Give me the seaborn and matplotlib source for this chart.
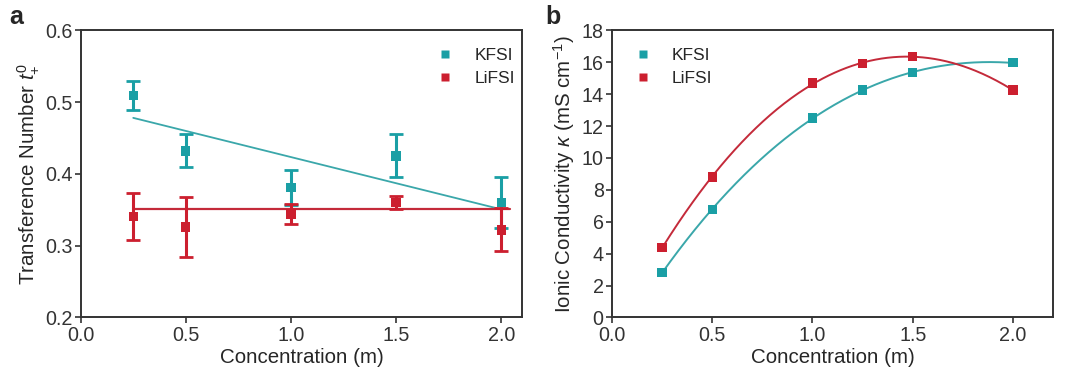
import numpy as np
import pandas as pd
import matplotlib
matplotlib.use("Agg")
import matplotlib.pyplot as plt
import seaborn as sns

# ---------------- data ----------------
conc_a = [0.25, 0.5, 1.0, 1.5, 2.0]
kfsi_t = [0.509, 0.432, 0.381, 0.425, 0.360]
kfsi_t_err = [0.020, 0.023, 0.024, 0.030, 0.035]
lifsi_t = [0.341, 0.326, 0.344, 0.360, 0.322]
lifsi_t_err = [0.033, 0.042, 0.014, 0.009, 0.030]
kfsi_fit_x = [0.25, 1.98]
kfsi_fit_y = [0.478, 0.352]
lifsi_fit_x = [0.25, 2.04]
lifsi_fit_y = [0.351, 0.351]

conc_b = [0.25, 0.5, 1.0, 1.25, 1.5, 2.0]
kfsi_k = [2.82, 6.75, 12.51, 14.25, 15.35, 15.96]
lifsi_k = [4.38, 8.80, 14.70, 15.90, 16.36, 14.25]

series = ["KFSI", "LiFSI"]
xticks = [0.0, 0.5, 1.0, 1.5, 2.0]
yticks_a = [0.2, 0.3, 0.4, 0.5, 0.6]
yticks_b = [0, 2, 4, 6, 8, 10, 12, 14, 16, 18]

# ---------------- style ----------------
sns.set_theme(style="ticks")
plt.rcParams["font.family"] = ["Liberation Sans", "DejaVu Sans"]
plt.rcParams["mathtext.fontset"] = "custom"
plt.rcParams["mathtext.rm"] = "Liberation Sans"
plt.rcParams["mathtext.it"] = "Liberation Sans:italic"

TEAL = "#1a9fa5"
RED = "#cc1f2f"
TEAL_L = "#3aa7aa"
RED_L = "#c42a3a"
palette = {"KFSI": TEAL, "LiFSI": RED}
SPINE = "#333333"
LABEL_FS = 14.8
TICK_FS = 14.2

fig = plt.figure(figsize=(10.8, 3.74), dpi=100)
ax1 = fig.add_axes([0.0747, 0.1513, 0.4089, 0.7677])
ax2 = fig.add_axes([0.5667, 0.1513, 0.4083, 0.7677])

df_a = pd.DataFrame({
    "conc": conc_a * 2,
    "t": kfsi_t + lifsi_t,
    "err": kfsi_t_err + lifsi_t_err,
    "salt": ["KFSI"] * len(conc_a) + ["LiFSI"] * len(conc_a),
})
df_b = pd.DataFrame({
    "conc": conc_b * 2,
    "k": kfsi_k + lifsi_k,
    "salt": ["KFSI"] * len(conc_b) + ["LiFSI"] * len(conc_b),
})

# ---------------- panel a ----------------
sns.lineplot(x=kfsi_fit_x, y=kfsi_fit_y, ax=ax1, color=TEAL_L, lw=1.3, zorder=2)
sns.lineplot(x=lifsi_fit_x, y=lifsi_fit_y, ax=ax1, color=RED_L, lw=1.6, zorder=2)
for s in series:
    sub = df_a[df_a.salt == s]
    ax1.errorbar(sub.conc, sub.t, yerr=sub.err, fmt="none", ecolor=palette[s],
                 elinewidth=2.2, capsize=5, capthick=2.0, zorder=3)
sns.scatterplot(data=df_a, x="conc", y="t", hue="salt", palette=palette, ax=ax1,
                marker="s", s=45, edgecolor="none", zorder=4)

ax1.set_xlim(0, 2.1)
ax1.set_ylim(0.2, 0.6)
ax1.set_xticks(xticks)
ax1.set_yticks(yticks_a)
ax1.set_xlabel("Concentration (m)", fontsize=LABEL_FS, labelpad=2)
ax1.set_ylabel(r"Transference Number $t_{+}^{0}$", fontsize=LABEL_FS, labelpad=3)
leg1 = ax1.legend(loc="upper right", frameon=False, fontsize=12.5, markerscale=0.9,
                  handletextpad=0.7, labelspacing=0.45, borderaxespad=0.0,
                  bbox_to_anchor=(1.0, 0.962))

# ---------------- panel b ----------------
xs = np.linspace(min(conc_b), max(conc_b), 300)
for s, ys, lc in [("KFSI", kfsi_k, TEAL_L), ("LiFSI", lifsi_k, RED_L)]:
    coef = np.polyfit(conc_b, ys, 3)
    sns.lineplot(x=xs, y=np.polyval(coef, xs), ax=ax2, color=lc, lw=1.4, zorder=2)
sns.scatterplot(data=df_b, x="conc", y="k", hue="salt", palette=palette, ax=ax2,
                marker="s", s=45, edgecolor="none", zorder=4)

ax2.set_xlim(0, 2.2)
ax2.set_ylim(0, 18)
ax2.set_xticks(xticks)
ax2.set_yticks(yticks_b)
ax2.set_xlabel("Concentration (m)", fontsize=LABEL_FS, labelpad=2)
ax2.set_ylabel(r"Ionic Conductivity $\kappa$ (mS cm$^{-1}$)", fontsize=LABEL_FS, labelpad=3)
leg2 = ax2.legend(loc="upper left", frameon=False, fontsize=12.5, markerscale=0.9,
                  handletextpad=0.7, labelspacing=0.45, borderaxespad=0.0,
                  bbox_to_anchor=(0.014, 0.962))

for ax in (ax1, ax2):
    for sp in ax.spines.values():
        sp.set_color(SPINE)
        sp.set_linewidth(1.4)
    ax.tick_params(axis="both", direction="out", length=4, width=1.2,
                   color=SPINE, labelsize=TICK_FS, labelcolor="#333333", pad=2)
    ax.set_xticklabels([f"{v:.1f}" for v in xticks])

ax1.set_yticklabels([f"{v:.1f}" for v in yticks_a])
ax2.set_yticklabels([str(v) for v in yticks_b])

fig.text(0.009, 0.955, "a", fontsize=18, fontweight="bold", va="center")
fig.text(0.505, 0.955, "b", fontsize=18, fontweight="bold", va="center")

fig.savefig("out.png", dpi=100)
